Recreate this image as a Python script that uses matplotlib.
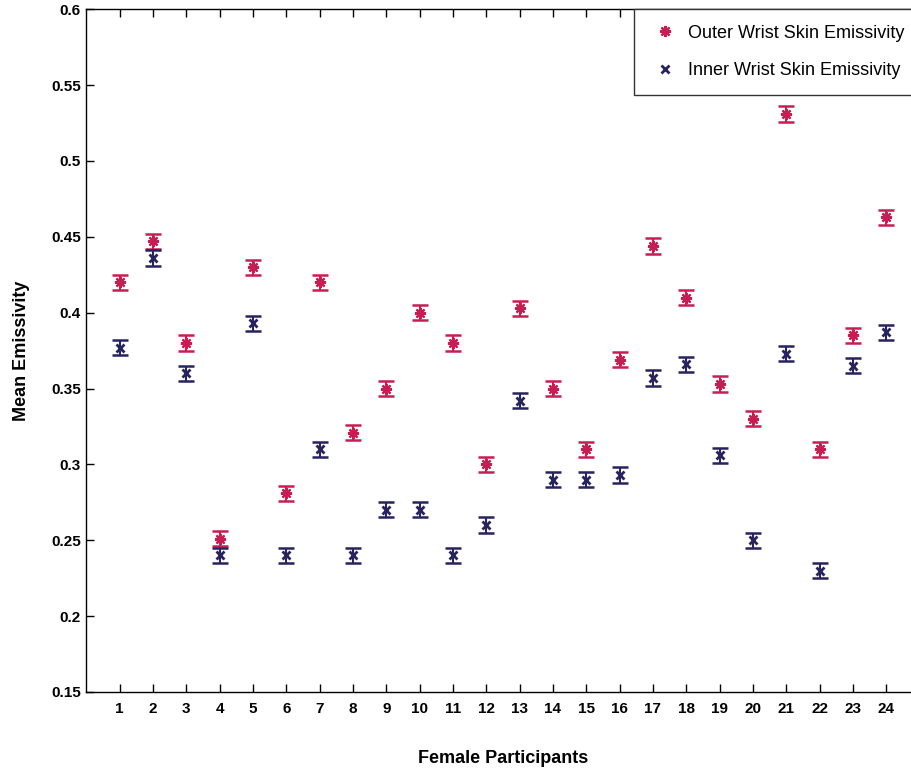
import numpy as np
import matplotlib
matplotlib.use('Agg')
import matplotlib.pyplot as plt

plt.rcParams['font.family'] = ['Liberation Sans', 'DejaVu Sans']

participants = list(range(1, 25))
outer = [0.420, 0.447, 0.380, 0.251, 0.430, 0.281, 0.420, 0.321, 0.350, 0.400,
         0.380, 0.300, 0.403, 0.350, 0.310, 0.369, 0.444, 0.410, 0.353, 0.330,
         0.531, 0.310, 0.385, 0.463]
inner = [0.377, 0.436, 0.360, 0.240, 0.393, 0.240, 0.310, 0.240, 0.270, 0.270,
         0.240, 0.260, 0.342, 0.290, 0.290, 0.293, 0.357, 0.366, 0.306, 0.250,
         0.373, 0.230, 0.365, 0.387]
outer_err = [0.005] * 24
inner_err = [0.005] * 24
yticks = [0.15, 0.2, 0.25, 0.3, 0.35, 0.4, 0.45, 0.5, 0.55, 0.6]
ytick_labels = ['0.15', '0.2', '0.25', '0.3', '0.35', '0.4', '0.45', '0.5', '0.55', '0.6']

red = '#c81d52'
navy = '#27235f'
asterisk = (8, 2, 0)

fig = plt.figure(figsize=(9.12, 7.71), dpi=100)
ax = fig.add_axes([0.0946, 0.1025, 0.9137, 0.8855])

ax.errorbar(participants, outer, yerr=outer_err, fmt='none', ecolor=red,
            elinewidth=1.5, capsize=5.8, capthick=1.8)
ax.errorbar(participants, inner, yerr=inner_err, fmt='none', ecolor=navy,
            elinewidth=1.5, capsize=5.8, capthick=1.8)
ax.plot(participants, outer, linestyle='none', marker=asterisk, markersize=8,
        markeredgewidth=1.6, color=red, label='Outer Wrist Skin Emissivity')
ax.plot(participants, inner, linestyle='none', marker='x', markersize=6,
        markeredgewidth=2.0, color=navy, label='Inner Wrist Skin Emissivity')

ax.set_xlim(0, 25)
ax.set_ylim(0.15, 0.6)
ax.set_xticks(participants)
ax.set_xticklabels([str(p) for p in participants], fontsize=11, fontweight='bold')
ax.set_yticks(yticks)
ax.set_yticklabels(ytick_labels, fontsize=11, fontweight='bold')
ax.tick_params(direction='in', top=True, right=True, length=6, width=1.0)
ax.tick_params(axis='x', pad=7.5)
ax.tick_params(axis='y', pad=4)
for s in ax.spines.values():
    s.set_linewidth(1.0)

ax.set_xlabel('Female Participants', fontsize=13, fontweight='bold', labelpad=24)
ax.set_ylabel('Mean Emissivity', fontsize=13, fontweight='bold', labelpad=15)

leg = ax.legend(loc='upper right', borderaxespad=0, fancybox=False, fontsize=13,
                handlelength=1.8, handletextpad=0.35, labelspacing=1.15,
                borderpad=0.85, framealpha=1)
leg.get_frame().set_edgecolor('#333333')
leg.get_frame().set_linewidth(1.0)

fig.savefig('out.png', dpi=100)
